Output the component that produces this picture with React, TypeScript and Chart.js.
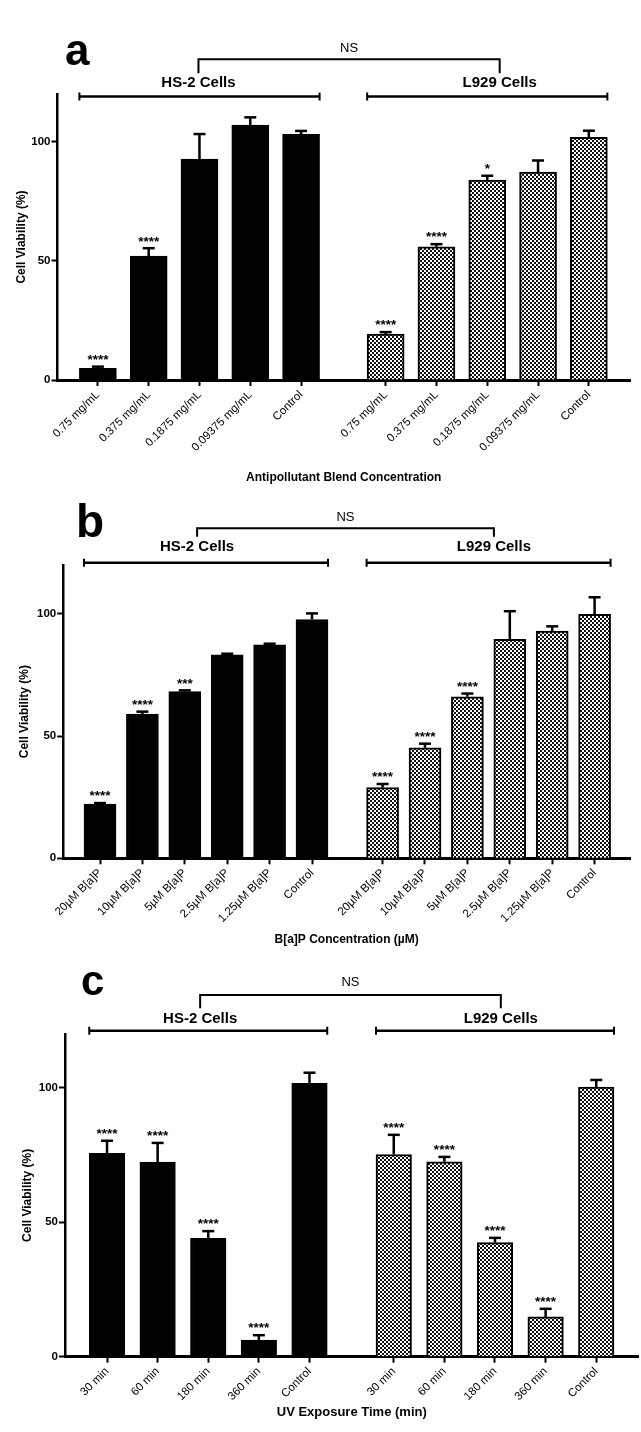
import React, { useEffect, useRef } from "react";
import { Chart, registerables } from "chart.js";

Chart.register(...registerables);

// ---------- Data ----------
const GROUP_NAMES = ["HS-2 Cells", "L929 Cells"];
const Y_TICKS = [0, 50, 100];
const Y_TITLE = "Cell Viability (%)";

// Panel a
const A_CATEGORIES = ["0.75 mg/mL", "0.375 mg/mL", "0.1875 mg/mL", "0.09375 mg/mL", "Control"];
const A_HS2_VALUES = [4.9, 52.0, 92.7, 107.0, 103.1];
const A_HS2_ERRORS = [0.7, 3.3, 10.5, 3.2, 1.4];
const A_HS2_SIG = ["****", "****", "", "", ""];
const A_L929_VALUES = [19.3, 55.9, 83.9, 87.2, 101.8];
const A_L929_ERRORS = [0.8, 1.1, 1.8, 4.9, 2.8];
const A_L929_SIG = ["****", "****", "*", "", ""];
const A_X_TITLE = "Antipollutant Blend Concentration";

// Panel b
const B_CATEGORIES = ["20µM B[a]P", "10µM B[a]P", "5µM B[a]P", "2.5µM B[a]P", "1.25µM B[a]P", "Control"];
const B_HS2_VALUES = [22.2, 59.0, 68.2, 83.2, 87.3, 97.7];
const B_HS2_ERRORS = [0.4, 1.0, 0.5, 0.5, 0.5, 2.5];
const B_HS2_SIG = ["****", "****", "***", "", "", ""];
const B_L929_VALUES = [28.9, 45.2, 66.1, 89.6, 93.0, 99.8];
const B_L929_ERRORS = [1.5, 1.7, 1.3, 11.5, 1.9, 7.0];
const B_L929_SIG = ["****", "****", "****", "", "", ""];
const B_X_TITLE = "B[a]P Concentration (µM)";

// Panel c
const C_CATEGORIES = ["30 min", "60 min", "180 min", "360 min", "Control"];
const C_HS2_VALUES = [75.6, 72.4, 44.0, 6.2, 101.7];
const C_HS2_ERRORS = [4.7, 7.1, 2.7, 1.8, 3.9];
const C_HS2_SIG = ["****", "****", "****", "****", ""];
const C_L929_VALUES = [75.2, 72.5, 42.4, 14.8, 100.3];
const C_L929_ERRORS = [7.3, 1.8, 1.8, 3.0, 2.6];
const C_L929_SIG = ["****", "****", "****", "****", ""];
const C_X_TITLE = "UV Exposure Time (min)";

// ---------- Layout ----------
const FONT = "'Liberation Sans', Arial, Helvetica, sans-serif";
const GROUP_GAP = 0.665; // extra slot space between the two cell groups

type PanelData = {
  letter: string;
  categories: string[];
  hs2: number[];
  hs2Err: number[];
  hs2Sig: string[];
  l929: number[];
  l929Err: number[];
  l929Sig: string[];
  xTitle: string;
};

type PanelLayout = {
  top: number;
  height: number;
  padTop: number;
  chartBottom: number;
  axisLeft: number;
  padRight: number;
  xMin: number;
  xMax: number;
  barThickness: number;
  xTitleSize: number;
  xTitlePad: number;
  yTitlePad: number;
  bracketX: number[];
  nsTextY: number;
  nsBarY: number;
  nsDropY: number;
  groupLabelY: number;
  spanY: number;
  letterX: number;
  letterBase: number;
  letterSize: number;
};

const PANEL_DATA: PanelData[] = [
  { letter: "a", categories: A_CATEGORIES, hs2: A_HS2_VALUES, hs2Err: A_HS2_ERRORS, hs2Sig: A_HS2_SIG, l929: A_L929_VALUES, l929Err: A_L929_ERRORS, l929Sig: A_L929_SIG, xTitle: A_X_TITLE },
  { letter: "b", categories: B_CATEGORIES, hs2: B_HS2_VALUES, hs2Err: B_HS2_ERRORS, hs2Sig: B_HS2_SIG, l929: B_L929_VALUES, l929Err: B_L929_ERRORS, l929Sig: B_L929_SIG, xTitle: B_X_TITLE },
  { letter: "c", categories: C_CATEGORIES, hs2: C_HS2_VALUES, hs2Err: C_HS2_ERRORS, hs2Sig: C_HS2_SIG, l929: C_L929_VALUES, l929Err: C_L929_ERRORS, l929Sig: C_L929_SIG, xTitle: C_X_TITLE },
];

const PANEL_LAYOUT: PanelLayout[] = [
  {
    top: 0, height: 490, padTop: 94, chartBottom: 380, axisLeft: 57.5, padRight: 11,
    xMin: -0.795, xMax: 10.475, barThickness: 37, xTitleSize: 12, xTitlePad: 4.8, yTitlePad: 14,
    bracketX: [1.98, 7.91], nsTextY: 48, nsBarY: 59.3, nsDropY: 73.3, groupLabelY: 83.3, spanY: 96.5,
    letterX: 65, letterBase: 65, letterSize: 44,
  },
  {
    top: 490, height: 465, padTop: 75, chartBottom: 368.3, axisLeft: 63.2, padRight: 11,
    xMin: -0.868, xMax: 12.5, barThickness: 32, xTitleSize: 12, xTitlePad: 7.8, yTitlePad: 17.8,
    bracketX: [2.29, 9.29], nsTextY: 27.7, nsBarY: 38.3, nsDropY: 46.7, groupLabelY: 57, spanY: 72.7,
    letterX: 76, letterBase: 47, letterSize: 46,
  },
  {
    top: 955, height: 477, padTop: 79, chartBottom: 401.7, axisLeft: 65, padRight: 2.5,
    xMin: -0.83, xMax: 10.5, barThickness: 35.5, xTitleSize: 13, xTitlePad: 11.5, yTitlePad: 20.8,
    bracketX: [1.84, 7.78], nsTextY: 27.7, nsBarY: 40, nsDropY: 53.3, groupLabelY: 64.3, spanY: 75.8,
    letterX: 81, letterBase: 40, letterSize: 42,
  },
];

function makePattern(): CanvasPattern | string {
  const c = document.createElement("canvas");
  c.width = 4;
  c.height = 4;
  const g = c.getContext("2d");
  if (!g) return "#808080";
  g.fillStyle = "#ffffff";
  g.fillRect(0, 0, 4, 4);
  g.fillStyle = "#111111";
  g.fillRect(0, 0, 2, 2);
  g.fillRect(2, 2, 2, 2);
  return g.createPattern(c, "repeat") || "#808080";
}

function Panel({ data, layout }: { data: PanelData; layout: PanelLayout }) {
  const ref = useRef<HTMLCanvasElement | null>(null);

  useEffect(() => {
    const canvas = ref.current;
    if (!canvas) return;
    const n = data.categories.length;
    const positions = [
      ...data.categories.map((_, i) => i),
      ...data.categories.map((_, i) => i + n + GROUP_GAP),
    ];
    const values = [...data.hs2, ...data.l929];
    const errs = [...data.hs2Err, ...data.l929Err];
    const sigs = [...data.hs2Sig, ...data.l929Sig];
    const labels = [...data.categories, ...data.categories];
    const pattern = makePattern();
    const colors = positions.map((_, i) => (i < n ? "#000000" : pattern));

    const annot = {
      id: "annot",
      afterDraw(chart: any) {
        const ctx: CanvasRenderingContext2D = chart.ctx;
        const xs = chart.scales.x;
        const ys = chart.scales.y;
        ctx.save();
        ctx.strokeStyle = "#000";
        ctx.fillStyle = "#000";
        ctx.lineCap = "butt";

        // error bars + significance stars
        const capHalf = 6;
        positions.forEach((p, i) => {
          const x = xs.getPixelForValue(p);
          const yb = ys.getPixelForValue(values[i]);
          const yt = ys.getPixelForValue(values[i] + errs[i]);
          ctx.lineWidth = 2.5;
          ctx.beginPath();
          ctx.moveTo(x, yb);
          ctx.lineTo(x, yt);
          ctx.stroke();
          ctx.beginPath();
          ctx.moveTo(x - capHalf, yt);
          ctx.lineTo(x + capHalf, yt);
          ctx.stroke();
          if (sigs[i]) {
            ctx.font = `bold 13.5px ${FONT}`;
            ctx.textAlign = "center";
            ctx.textBaseline = "alphabetic";
            ctx.fillText(sigs[i], x, yt - 10.5 + 7.8);
          }
        });

        // group spans
        const bt = layout.barThickness;
        for (let g = 0; g < 2; g++) {
          const x1 = xs.getPixelForValue(positions[g * n]) - bt / 2;
          const x2 = xs.getPixelForValue(positions[g * n + n - 1]) + bt / 2;
          const y = layout.spanY;
          ctx.lineWidth = 2.5;
          ctx.beginPath();
          ctx.moveTo(x1, y);
          ctx.lineTo(x2, y);
          ctx.stroke();
          ctx.lineWidth = 2;
          ctx.beginPath();
          ctx.moveTo(x1, y - 4);
          ctx.lineTo(x1, y + 4);
          ctx.moveTo(x2, y - 4);
          ctx.lineTo(x2, y + 4);
          ctx.stroke();
        }

        // group labels + NS bracket
        const bl = xs.getPixelForValue(layout.bracketX[0]);
        const br = xs.getPixelForValue(layout.bracketX[1]);
        ctx.font = `bold 15px ${FONT}`;
        ctx.textAlign = "center";
        ctx.textBaseline = "middle";
        ctx.fillText(GROUP_NAMES[0], bl, layout.groupLabelY);
        ctx.fillText(GROUP_NAMES[1], br, layout.groupLabelY);
        ctx.lineWidth = 2;
        ctx.beginPath();
        ctx.moveTo(bl, layout.nsDropY);
        ctx.lineTo(bl, layout.nsBarY);
        ctx.lineTo(br, layout.nsBarY);
        ctx.lineTo(br, layout.nsDropY);
        ctx.stroke();
        ctx.font = `13px ${FONT}`;
        ctx.fillText("NS", (bl + br) / 2, layout.nsTextY);

        // panel letter
        ctx.font = `bold ${layout.letterSize}px ${FONT}`;
        ctx.textAlign = "left";
        ctx.textBaseline = "alphabetic";
        ctx.fillText(data.letter, layout.letterX, layout.letterBase);
        ctx.restore();
      },
    };

    const chart = new Chart(canvas, {
      type: "bar",
      data: {
        datasets: [
          {
            data: positions.map((x, i) => ({ x, y: values[i] })) as any,
            backgroundColor: colors as any,
            borderColor: "#000000",
            borderWidth: 2,
            barThickness: layout.barThickness,
            borderSkipped: "bottom",
          },
        ],
      },
      options: {
        responsive: false,
        animation: false,
        devicePixelRatio: 1,
        layout: { padding: { top: layout.padTop, left: 0, right: layout.padRight, bottom: 0 } },
        plugins: { legend: { display: false }, tooltip: { enabled: false }, title: { display: false } },
        scales: {
          x: {
            type: "linear",
            min: layout.xMin,
            max: layout.xMax,
            offset: false,
            z: 1,
            afterBuildTicks: (s: any) => {
              s.ticks = positions.map((v) => ({ value: v }));
            },
            afterFit: (s: any) => {
              s.height = layout.height - layout.chartBottom;
            },
            ticks: {
              autoSkip: false,
              minRotation: 45,
              maxRotation: 45,
              padding: 2,
              color: "#000",
              font: { family: FONT, size: 11.5 },
              callback: (_v: any, i: number) => labels[i],
            },
            grid: {
              display: true,
              offset: false,
              drawOnChartArea: false,
              drawTicks: true,
              tickLength: 6,
              tickWidth: 2,
              tickColor: "#000",
            },
            border: { display: true, color: "#000", width: 3 },
            title: {
              display: true,
              text: data.xTitle,
              color: "#000",
              font: { family: FONT, size: layout.xTitleSize, weight: "bold" },
              padding: { top: 0, bottom: layout.xTitlePad },
            },
          } as any,
          y: {
            type: "linear",
            min: 0,
            max: 120,
            z: 1,
            afterBuildTicks: (s: any) => {
              s.ticks = Y_TICKS.map((v) => ({ value: v }));
            },
            afterFit: (s: any) => {
              s.width = layout.axisLeft;
            },
            ticks: {
              color: "#000",
              padding: 1,
              font: { family: FONT, size: 11.5, weight: "bold" },
            },
            grid: {
              display: true,
              drawOnChartArea: false,
              drawTicks: true,
              tickLength: 6,
              tickWidth: 2,
              tickColor: "#000",
            },
            border: { display: true, color: "#000", width: 2.5 },
            title: {
              display: true,
              text: Y_TITLE,
              color: "#000",
              font: { family: FONT, size: 12, weight: "bold" },
              padding: { top: layout.yTitlePad, bottom: 0 },
            },
          } as any,
        },
      },
      plugins: [annot],
    });

    return () => chart.destroy();
  }, [data, layout]);

  return (
    <canvas
      ref={ref}
      width={641}
      height={layout.height}
      style={{ position: "absolute", left: 0, top: layout.top, width: 641, height: layout.height }}
    />
  );
}

export default function App() {
  return (
    <div style={{ position: "absolute", left: 0, top: 0, width: 641, height: 1432, background: "#ffffff", overflow: "hidden" }}>
      {PANEL_DATA.map((d, i) => (
        <Panel key={d.letter} data={d} layout={PANEL_LAYOUT[i]} />
      ))}
    </div>
  );
}
